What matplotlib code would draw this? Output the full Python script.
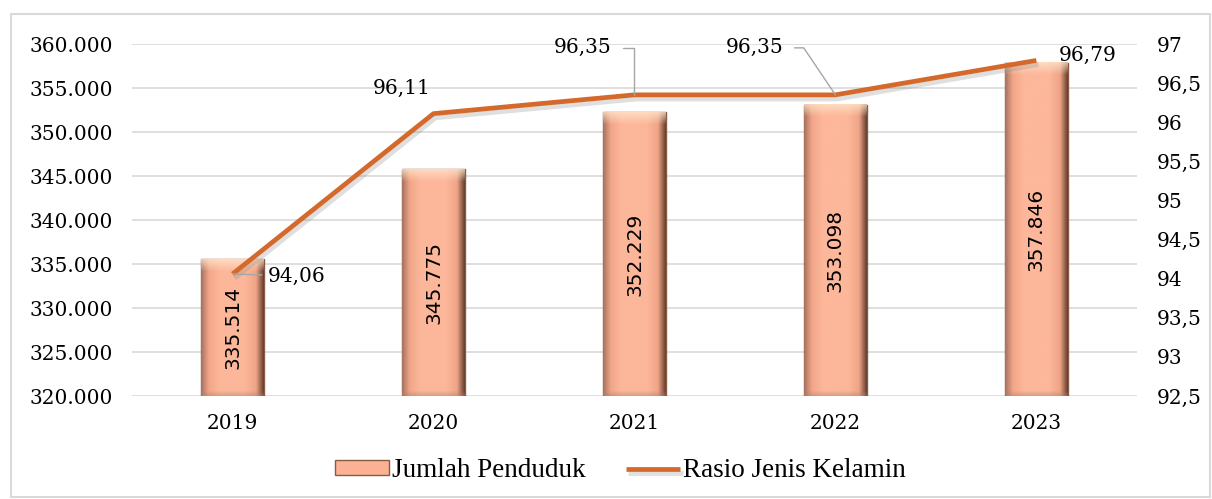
import numpy as np
import matplotlib.pyplot as plt
import matplotlib.patheffects as pe
from matplotlib.patches import Rectangle
from matplotlib.colors import to_rgb

# ----------------------------- data -----------------------------
years = ['2019', '2020', '2021', '2022', '2023']
jumlah_penduduk = [335514, 345775, 352229, 353098, 357846]
rasio_jk = [94.06, 96.11, 96.35, 96.35, 96.79]

bar_labels = ['335.514', '345.775', '352.229', '353.098', '357.846']
line_labels = ['94,06', '96,11', '96,35', '96,35', '96,79']

left_ticks = [320000, 325000, 330000, 335000, 340000, 345000, 350000, 355000, 360000]
left_ticklabels = ['320.000', '325.000', '330.000', '335.000', '340.000',
                   '345.000', '350.000', '355.000', '360.000']
right_ticks = [92.5, 93, 93.5, 94, 94.5, 95, 95.5, 96, 96.5, 97]
right_ticklabels = ['92,5', '93', '93,5', '94', '94,5', '95', '95,5', '96', '96,5', '97']

# ----------------------------- style -----------------------------
line_color = '#D4692B'
bar_face = '#FBB194'
bar_edge = '#8A5A45'
tick_font = 'DejaVu Serif'
fs = 14.5
ymin, ymax = 320000, 360000

fig = plt.figure(figsize=(12.12, 4.99), dpi=100)
fig.patches.append(Rectangle((0.009, 0.004), 0.989, 0.967, transform=fig.transFigure,
                             fill=False, edgecolor='#D9D9D9', linewidth=1.5))

ax = fig.add_axes([0.109, 0.2064, 0.829, 0.7054])
x = np.arange(len(years))
bw = 0.31

bars = ax.bar(x, jumlah_penduduk, width=bw, color=bar_face, edgecolor=bar_edge,
              linewidth=1.0, zorder=2, label='Jumlah Penduduk')
ax.set_xlim(-0.5, len(years) - 0.5)
ax.set_ylim(ymin, ymax)

# bevel-like shading inside each bar (horizontal profile + light top cap)
stops = np.array([0.0, 0.12, 0.3, 0.7, 0.88, 1.0])
cols = np.array([to_rgb(c) for c in
                 ['#A87461', '#F2A689', '#FDB79A', '#FDB79A', '#EFA486', '#684232']])
u = np.linspace(0, 1, 64)
row = np.stack([np.interp(u, stops, cols[:, k]) for k in range(3)], axis=-1)
px_per_unit = 0.7054 * 499 / (ymax - ymin)
cream = np.array(to_rgb('#FFE6CC'))
dark = np.array(to_rgb('#B07C66'))
for b in bars:
    bx, bwid = b.get_x(), b.get_width()
    top = b.get_y() + b.get_height()
    hpx = int(round((top - ymin) * px_per_unit))
    img = np.repeat(row[None, :, :], hpx, axis=0)
    cap = 12
    for r in range(min(cap, hpx)):
        w = 0.75 * (1 - r / cap)
        img[r] = img[r] * (1 - w) + cream * w
    for r in range(max(0, hpx - 6), hpx):
        w = 0.5 * (r - (hpx - 6)) / 6
        img[r] = img[r] * (1 - w) + dark * w
    ax.imshow(img, aspect='auto', zorder=2.1, interpolation='bilinear',
              extent=[bx, bx + bwid, ymin, top])
ax.set_xlim(-0.5, len(years) - 0.5)
ax.set_ylim(ymin, ymax)

for xi, v, lab in zip(x, jumlah_penduduk, bar_labels):
    ax.text(xi, (ymin + v) / 2, lab, rotation=90, ha='center', va='center',
            fontsize=fs, family='DejaVu Sans', color='black', zorder=3)

ax.set_yticks(left_ticks)
ax.set_yticklabels(left_ticklabels, family=tick_font, fontsize=fs)
ax.set_xticks(x)
ax.set_xticklabels(years, family=tick_font, fontsize=fs)
ax.tick_params(axis='y', length=0, pad=14)
ax.tick_params(axis='x', length=0, pad=13)
ax.grid(axis='y', color='#D9D9D9', linewidth=1.2, zorder=0)
ax.set_axisbelow(True)
for s in ax.spines.values():
    s.set_visible(False)

# ----------------------------- line on right axis -----------------------------
ax2 = ax.twinx()
ln, = ax2.plot(x, rasio_jk, color=line_color, linewidth=3.4, solid_capstyle='butt',
               label='Rasio Jenis Kelamin', zorder=4,
               path_effects=[pe.SimpleLineShadow(offset=(1.5, -3), shadow_color='#808080', alpha=0.25),
                             pe.Normal()])
ax2.set_ylim(92.5, 97)
ax2.set_yticks(right_ticks)
ax2.set_yticklabels(right_ticklabels, family=tick_font, fontsize=fs)
ax2.tick_params(axis='y', length=0, pad=14)
for s in ax2.spines.values():
    s.set_visible(False)

leader = dict(arrowstyle='-', color='#A6A6A6', linewidth=1.0, shrinkA=6, shrinkB=0)
label_pos = [
    ((35, -2), 'left', dict(leader, shrinkA=2, connectionstyle='arc3')),
    ((-3, 25), 'right', None),
    ((-23, 47), 'right', dict(leader, connectionstyle='angle,angleA=0,angleB=90,rad=0')),
    ((-52, 47), 'right', dict(leader, connectionstyle='angle,angleA=0,angleB=124,rad=0')),
    ((22, 5), 'left', None),
]
for xi, v, lab, (off, ha, ap) in zip(x, rasio_jk, line_labels, label_pos):
    ax2.annotate(lab, xy=(xi, v), xytext=off, textcoords='offset pixels',
                 ha=ha, va='center', fontsize=fs, family=tick_font,
                 arrowprops=ap, zorder=5)

# ----------------------------- legend -----------------------------
fig.legend([bars, ln], ['Jumlah Penduduk', 'Rasio Jenis Kelamin'],
           loc='center', bbox_to_anchor=(0.512, 0.057), ncol=2, frameon=False,
           prop={'family': 'Liberation Serif', 'size': 19.5}, handlelength=2.0,
           handleheight=0.45, handletextpad=0.1, columnspacing=1.5)

fig.savefig('out.png', dpi=100)
